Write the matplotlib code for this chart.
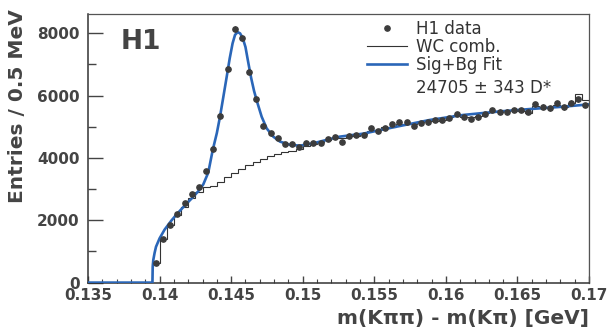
import numpy as np
import matplotlib
matplotlib.use("Agg")
import matplotlib.pyplot as plt
from matplotlib.ticker import MultipleLocator, FormatStrFormatter
from matplotlib.lines import Line2D

plt.rcParams["font.family"] = ["DejaVu Sans"]

# D* candidates, 0.5 MeV bins starting at 0.1395 GeV
bin_lo = 0.1395
bin_w = 0.0005
h1_counts = [620, 1400, 1850, 2200, 2545, 2845, 3080, 3590, 4290, 5350,
             6860, 8130, 7840, 6770, 5885, 5040, 4790, 4630, 4450, 4450,
             4360, 4470, 4470, 4470, 4600, 4670, 4525, 4720, 4730, 4740,
             4955, 4875, 4955, 5090, 5145, 5145, 5030, 5115, 5145, 5220,
             5220, 5275, 5410, 5325, 5250, 5305, 5410, 5540, 5485, 5485,
             5540, 5540, 5485, 5720, 5645, 5595, 5755, 5630, 5775, 5885,
             5700]

# wrong-charge combinations, same binning
wc_counts = [620, 1390, 1850, 2170, 2440, 2700, 2920, 3080, 3100, 3240,
             3400, 3530, 3660, 3780, 3880, 3970, 4050, 4120, 4180, 4230,
             4300, 4400, 4450, 4520, 4570, 4630, 4650, 4700, 4720, 4780,
             4850, 4900, 5000, 5000, 5080, 5100, 5080, 5140, 5200, 5200,
             5230, 5300, 5390, 5330, 5320, 5350, 5450, 5470, 5480, 5500,
             5530, 5520, 5450, 5680, 5640, 5620, 5700, 5650, 5780, 6060,
             5850]

# signal + background fit curve
fit_m = [0.135, 0.13950, 0.13952, 0.13956, 0.13965, 0.13975, 0.14000,
         0.14035, 0.14084, 0.14131, 0.14177, 0.14224, 0.14270, 0.14305,
         0.14340, 0.14371, 0.14400, 0.14422, 0.14445, 0.14469, 0.14490,
         0.14510, 0.14527, 0.14545, 0.14562, 0.14580, 0.14600, 0.14620,
         0.14640, 0.14660, 0.14680, 0.14713, 0.14748, 0.14794, 0.14841,
         0.14911, 0.14980, 0.15073, 0.15167, 0.15260, 0.15422, 0.15656,
         0.15888, 0.16121, 0.16354, 0.16587, 0.16819, 0.17000]
fit_n = [0, 0, 500, 725, 950, 1150, 1420,
         1700, 2000, 2250, 2480, 2700, 2930, 3150,
         3530, 4250, 4800, 5325, 5950, 6610, 7200,
         7680, 7950, 8040, 8000, 7860, 7560, 7050,
         6560, 6150, 5820, 5325, 4950, 4685, 4525,
         4420, 4395, 4470, 4580, 4685, 4780, 5005,
         5220, 5380, 5485, 5570, 5645, 5720]

n_bins = len(h1_counts)
edges = bin_lo + bin_w * np.arange(n_bins + 1)
centers = 0.5 * (edges[:-1] + edges[1:])
counts = np.array(h1_counts, dtype=float)

fig = plt.figure(figsize=(6.07, 3.32), dpi=100)
ax = fig.add_axes([0.145, 0.1488, 0.8254, 0.809])

blue = "#2a66b8"
grey = "#3c3c3c"
txt = "#444444"

ax.stairs(wc_counts, edges, baseline=0, color="#333333", lw=0.8)
ax.plot(fit_m, fit_n, color=blue, lw=1.9, zorder=3)
ax.errorbar(centers, counts, yerr=np.sqrt(counts), fmt="o", ms=3.8,
            color=grey, ecolor=grey, elinewidth=0.9, capsize=0, zorder=4)

ax.set_xlim(0.135, 0.17)
ax.set_ylim(0, 8620)

ax.xaxis.set_major_locator(MultipleLocator(0.005))
ax.xaxis.set_minor_locator(MultipleLocator(0.001))
ax.xaxis.set_major_formatter(FormatStrFormatter("%g"))
ax.yaxis.set_major_locator(MultipleLocator(2000))
ax.yaxis.set_minor_locator(MultipleLocator(1000))

ax.tick_params(axis="both", which="both", direction="in", top=False, right=False,
               colors="#444444", labelcolor=txt)
ax.tick_params(axis="y", which="major", length=11, width=1, pad=6)
ax.tick_params(axis="y", which="minor", length=6, width=1)
ax.tick_params(axis="x", which="major", length=5, width=1, pad=4)
ax.tick_params(axis="x", which="minor", length=3, width=0.8)
for lab in ax.get_xticklabels() + ax.get_yticklabels():
    lab.set_fontweight("bold")
    lab.set_fontsize(11)

for side in ["left", "bottom"]:
    ax.spines[side].set_color("#333333")
    ax.spines[side].set_linewidth(1.1)
for side in ["top", "right"]:
    ax.spines[side].set_color("#555555")
    ax.spines[side].set_linewidth(0.9)

ax.set_xlabel("m(K\u03c0\u03c0) - m(K\u03c0) [GeV]", fontsize=14.5,
              fontweight="bold", color=txt, ha="right", va="center")
ax.xaxis.set_label_coords(1.0, -0.132)
ax.set_ylabel("Entries / 0.5 MeV", fontsize=14.5, fontweight="bold",
              color=txt, ha="right", va="center")
ax.yaxis.set_label_coords(-0.14, 1.02)

ax.text(0.065, 0.895, "H1", transform=ax.transAxes, fontsize=19,
        fontweight="bold", color=txt, ha="left", va="center")

handles = [
    Line2D([], [], marker="o", ls="none", ms=3.8, color=grey),
    Line2D([], [], color="#333333", lw=0.8),
    Line2D([], [], color=blue, lw=1.9),
]
leg = ax.legend(handles, ["H1 data", "WC comb.", "Sig+Bg Fit"],
                loc="upper left", bbox_to_anchor=(0.557, 0.978),
                frameon=False, fontsize=12, borderpad=0, borderaxespad=0,
                handlelength=2.4, handletextpad=0.55, labelspacing=0.0)
for t in leg.get_texts():
    t.set_color("#333333")

ax.text(0.655, 0.724, "24705 \u00b1 343 D*", transform=ax.transAxes,
        fontsize=12, color="#333333", ha="left", va="center")

fig.savefig("out.png", dpi=100)
